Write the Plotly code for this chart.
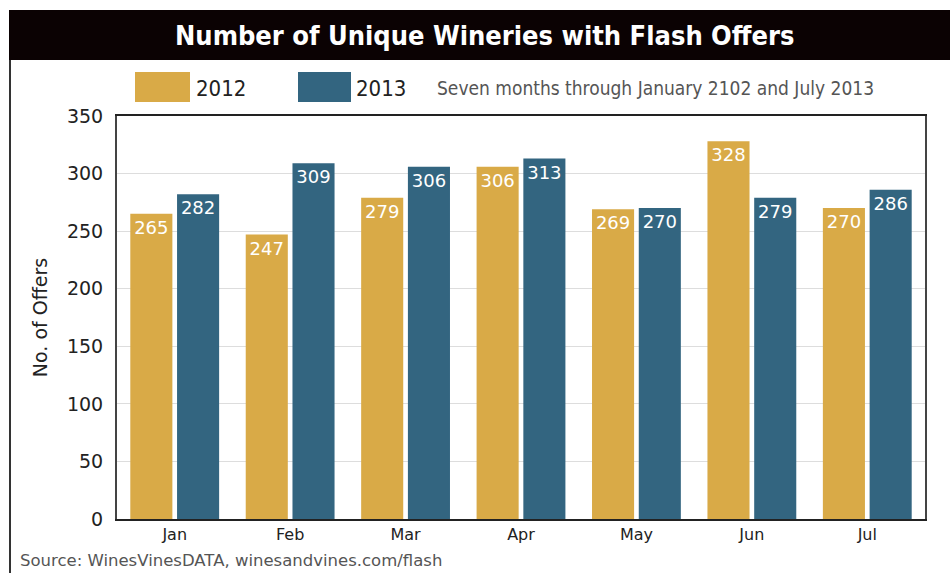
import plotly.graph_objects as go

months = ["Jan", "Feb", "Mar", "Apr", "May", "Jun", "Jul"]
offers_2012 = [265, 247, 279, 306, 269, 328, 270]
offers_2013 = [282, 309, 306, 313, 270, 279, 286]
y_ticks = [0, 50, 100, 150, 200, 250, 300, 350]

W, H = 950, 573
L, R, T, B = 117, 25, 116, 54
PW, PH = W - L - R, H - T - B

def px(x):
    return (x - L) / PW

def py(y):
    return (H - B - y) / PH

GOLD = "#D9AA47"
BLUE = "#336580"
LBL = "DejaVu Sans"
COND = "DejaVu Sans Condensed, DejaVu Sans"

fig = go.Figure()
fig.add_trace(go.Bar(x=months, y=offers_2012, name="2012", marker_color=GOLD,
                     marker_line_width=0,
                     text=offers_2012, textposition="inside", insidetextanchor="end",
                     textfont=dict(color="white", size=18, family=LBL), textangle=0))
fig.add_trace(go.Bar(x=months, y=offers_2013, name="2013", marker_color=BLUE,
                     marker_line_width=0,
                     text=offers_2013, textposition="inside", insidetextanchor="end",
                     textfont=dict(color="white", size=18, family=LBL), textangle=0))

shapes = [
    # title bar
    dict(type="rect", xref="paper", yref="paper", x0=px(9), x1=px(952), y0=py(60), y1=py(10),
         fillcolor="#0b0203", line_width=0, layer="above"),
    # left border
    dict(type="line", xref="paper", yref="paper", x0=px(10), x1=px(10), y0=py(60), y1=py(575),
         line=dict(color="#333", width=2)),
    # legend swatches
    dict(type="rect", xref="paper", yref="paper", x0=px(135), x1=px(190), y0=py(102), y1=py(72),
         fillcolor=GOLD, line_width=0),
    dict(type="rect", xref="paper", yref="paper", x0=px(298), x1=px(351), y0=py(102), y1=py(72),
         fillcolor=BLUE, line_width=0),
]

annotations = [
    dict(text="<b>Number of Unique Wineries with Flash Offers</b>", xref="paper", yref="paper",
         x=px(484), y=py(35), showarrow=False, xanchor="center", yanchor="middle",
         font=dict(family=COND, size=27, color="white")),
    dict(text="2012", xref="paper", yref="paper", x=px(194), y=py(88), showarrow=False,
         xanchor="left", yanchor="middle",
         font=dict(family=COND, size=22, color="#222")),
    dict(text="2013", xref="paper", yref="paper", x=px(354), y=py(88), showarrow=False,
         xanchor="left", yanchor="middle",
         font=dict(family=COND, size=22, color="#222")),
    dict(text="Seven months through January 2102 and July 2013", xref="paper", yref="paper",
         x=px(435), y=py(88), showarrow=False, xanchor="left", yanchor="middle",
         font=dict(family=COND, size=19, color="#555")),
    dict(text="Source: WinesVinesDATA, winesandvines.com/flash", xref="paper", yref="paper",
         x=px(18), y=py(560), showarrow=False, xanchor="left", yanchor="middle",
         font=dict(family="DejaVu Sans", size=16.5, color="#555")),
]

fig.update_layout(
    width=W, height=H,
    margin=dict(l=L, r=R, t=T, b=B, pad=0),
    paper_bgcolor="white", plot_bgcolor="white",
    barmode="group", bargap=0.19, bargroupgap=0.1,
    showlegend=False,
    shapes=shapes, annotations=annotations,
    font=dict(family=LBL, color="#222"),
    uniformtext=dict(minsize=10, mode="show"),
)
fig.update_yaxes(range=[0, 350], tickvals=y_ticks, showgrid=True, gridcolor="#dddddd", gridwidth=1,
                 showline=True, linecolor="#444", linewidth=2, mirror=True, ticks="",
                 tickfont=dict(size=19, color="#222"), ticklabelstandoff=8,
                 title=dict(text="No. of Offers", font=dict(size=19, color="#222"), standoff=14),
                 zeroline=False)
fig.update_xaxes(showline=True, linecolor="#222", linewidth=2, mirror=True, ticks="",
                 tickfont=dict(size=16, color="#222"))

fig.write_html("out.html", config={"displayModeBar": False},
               post_script="document.body.style.margin='0';document.body.style.overflow='hidden';")
